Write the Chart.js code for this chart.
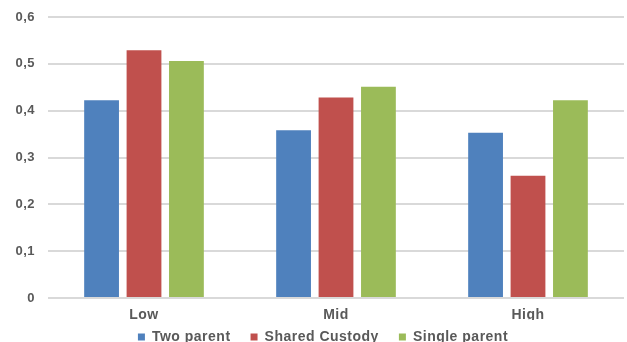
<!DOCTYPE html>
<html>
<head>
<meta charset="utf-8">
<script src="https://cdn.jsdelivr.net/npm/chart.js@4"></script>
<style>
	html, body { margin: 0; padding: 0; background: #fff; }
	#wrap { width: 627px; height: 342px; }
</style>
</head>
<body>
<div id="wrap"><canvas id="incomeChart"></canvas></div>
<script>
// chart data
const categories = ["Low", "Mid", "High"];
const twoParent = [0.422, 0.358, 0.353];
const sharedCustody = [0.529, 0.428, 0.261];
const singleParent = [0.506, 0.451, 0.422];
const yTickLabels = ["0", "0,1", "0,2", "0,3", "0,4", "0,5", "0,6"];

document.addEventListener("DOMContentLoaded", function () {
	const ctx = document.getElementById("incomeChart").getContext("2d");

	const tweaks = {
		id: "tweaks",
		// legend items need wide gaps but a short box
		afterInit(chart) {
			const fit = chart.legend.fit;
			chart.legend.fit = function () {
				fit.call(this);
				this.height -= 20;
			};
		},
		// Excel-like wide text: canvas letter spacing (reset whenever canvas resizes)
		beforeUpdate(chart) { chart.ctx.letterSpacing = "0.5px"; },
		beforeDraw(chart) { chart.ctx.letterSpacing = "0.5px"; },
		// legend sits a little right of centre in the original
		afterLayout(chart) {
			chart.legend.left += 22;
			chart.legend.top -= 10;
		},
	};

	const textColor = "#595959";
	const font = { family: "'Liberation Sans', Arial, sans-serif", size: 14, weight: "bold" };

	new Chart(ctx, {
		type: "bar",
		data: {
			labels: categories,
			datasets: [
				{ label: "Two parent", data: twoParent, backgroundColor: "#4F81BD" },
				{ label: "Shared Custody", data: sharedCustody, backgroundColor: "#C0504D" },
				{ label: "Single parent", data: singleParent, backgroundColor: "#9BBB59" },
			],
		},
		options: {
			responsive: true,
			maintainAspectRatio: false,
			animation: false,
			categoryPercentage: 0.663,
			barPercentage: 0.82,
			layout: { padding: { top: 17, right: 3, bottom: -2, left: 0 } },
			plugins: {
				tooltip: { enabled: false },
				legend: {
					position: "bottom",
					labels: {
						color: textColor,
						font: font,
						boxWidth: 7,
						boxHeight: 7,
						padding: 20,
					},
				},
			},
			scales: {
				y: {
					min: 0,
					max: 0.6,
					afterFit(axis) {
						axis.width = 48;
						axis.paddingTop = 0;
						axis.paddingBottom = 0;
					},
					border: { display: false },
					grid: { color: "#D9D9D9", lineWidth: 2, drawTicks: false },
					ticks: {
						stepSize: 0.1,
						padding: 13,
						color: textColor,
						font: { ...font, size: 13 },
						callback: (v, i) => yTickLabels[i],
					},
				},
				x: {
					afterFit(axis) { axis.height = 22; },
					border: { display: false },
					grid: { display: false },
					ticks: { color: textColor, font: font, padding: 1 },
				},
			},
		},
		plugins: [tweaks],
	});
});
</script>
</body>
</html>
